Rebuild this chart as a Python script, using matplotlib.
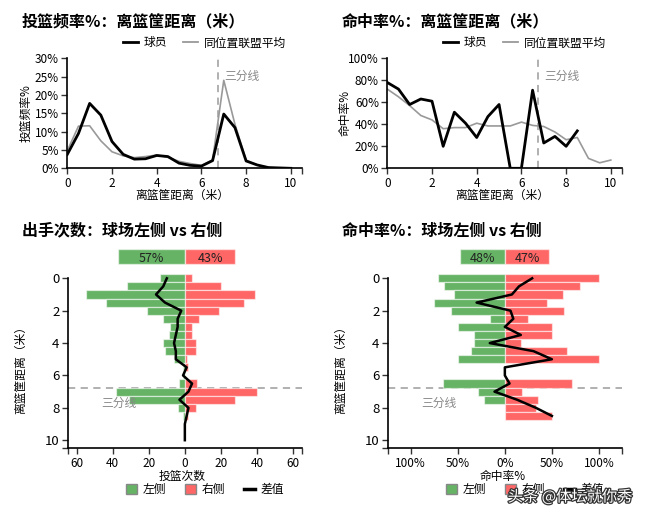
import matplotlib
matplotlib.use('Agg')
import matplotlib.pyplot as plt
import numpy as np
from matplotlib.lines import Line2D
from matplotlib.patches import Patch
import matplotlib.patheffects as pe

plt.rcParams['font.family'] = ['Noto Sans CJK SC', 'DejaVu Sans']
plt.rcParams['axes.unicode_minus'] = False

# ---------------- data ----------------
dist = [0, 0.5, 1, 1.5, 2, 2.5, 3, 3.5, 4, 4.5, 5, 5.5, 6, 6.5, 7, 7.5, 8, 8.5, 9, 9.5, 10]

freq_player = [3.8, 9.5, 17.7, 14.5, 7.3, 3.8, 2.5, 2.6, 3.5, 3.2, 1.4, 0.8, 0.6, 2.1, 14.8, 11.1, 2.0, 0.9, 0.2, 0.1, 0.0]
freq_league = [4.8, 11.5, 11.6, 7.5, 4.5, 3.4, 2.9, 3.2, 3.6, 3.0, 1.9, 1.3, 0.8, 2.3, 24.0, 12.0, 2.2, 0.9, 0.2, 0.1, 0.1]

rate_dist_player = [0, 0.5, 1, 1.5, 2, 2.5, 3, 3.5, 4, 4.5, 5, 5.5, 6, 6.5, 7, 7.5, 8, 8.5]
rate_player = [78, 72, 58, 63, 61, 20, 51, 41, 28, 47, 58, 0, 0, 71, 23, 29, 20, 34]
rate_league = [72, 65, 57, 48, 44, 36, 37, 37, 41, 38.5, 38.5, 38.5, 42, 39, 38, 33, 26, 28, 9, 5, 7.5]

left_count = [14, 32, 55, 44, 21, 12, 8, 9, 12, 11, 6, 1, 1, 3, 38, 31, 4, 1, 0, 0, 0]
right_count = [4, 20, 39, 33, 19, 8, 4, 4, 6, 6, 1, 2, 0, 7, 40, 28, 6, 2, 0, 0, 0]
count_share = [57, 43]

left_rate = [71, 65, 54, 75, 57, 16, 50, 33, 33, 36, 50, 0, 0, 66, 29, 22, 0, 0]
right_rate = [100, 80, 61.5, 45, 63, 25, 50, 50, 17, 66.5, 100, 0, 0, 71, 18, 35, 33, 50]
rate_share = [48, 47]

three_pt = 6.75

# ---------------- style ----------------
W, H = 651, 519
fig = plt.figure(figsize=(W / 100, H / 100), dpi=100)

GREEN = '#66b366'
RED = '#ff6666'
GRAY = '#999999'
TXT = '#000000'


def frac(x0, y0, x1, y1):
    return [x0 / W, 1 - y1 / H, (x1 - x0) / W, (y1 - y0) / H]


def style_axis(ax):
    for s in ['top', 'right']:
        ax.spines[s].set_visible(False)
    for s in ['left', 'bottom']:
        ax.spines[s].set_linewidth(1.2)
        ax.spines[s].set_color('black')
    ax.tick_params(length=4.5, width=1.0, labelsize=8, pad=1.5, colors='#333333', labelcolor=TXT)


# ---------- top ----------
ax1 = fig.add_axes(frac(67.3, 58.3, 302, 168.3))
ax2 = fig.add_axes(frac(387.3, 58.3, 622, 168.3))

ax1.plot(dist, freq_league, color=GRAY, lw=1.2, zorder=2)
ax1.plot(dist, freq_player, color='black', lw=2.0, zorder=3)
ax1.set_xlim(0, 10.5)
ax1.set_ylim(0, 30)
ax1.set_yticks(range(0, 31, 5))
ax1.set_yticklabels([f'{v}%' for v in range(0, 31, 5)])
ax1.set_xticks([0, 2, 4, 6, 8, 10, 10.5])
ax1.set_xticklabels(['0', '2', '4', '6', '8', '10', ''])

ax2.plot(dist, rate_league, color=GRAY, lw=1.2, zorder=2)
ax2.plot(rate_dist_player, rate_player, color='black', lw=2.0, zorder=3)
ax2.set_xlim(0, 10.5)
ax2.set_ylim(0, 100)
ax2.set_yticks(range(0, 101, 20))
ax2.set_yticklabels([f'{v}%' for v in range(0, 101, 20)])
ax2.set_xticks([0, 2, 4, 6, 8, 10, 10.5])
ax2.set_xticklabels(['0', '2', '4', '6', '8', '10', ''])

for ax, ylab, yt in [(ax1, '投篮频率%', 25.2), (ax2, '命中率%', 25.2 / 30 * 100)]:
    style_axis(ax)
    ax.tick_params(labelsize=8.5)
    ax.axvline(three_pt, color='#aaaaaa', lw=1.3, ls=(0, (4, 3)), zorder=1)
    ax.text(7.0, yt, '三分线', color='#888888', fontsize=8.5, va='center', ha='left')
    ax.set_xlabel('离篮筐距离（米）', fontsize=8.5, color=TXT)
    ax.xaxis.set_label_coords(0.49, -0.19)
    ax.set_ylabel(ylab, fontsize=8.5, color=TXT)
    ax.yaxis.set_label_coords(-0.15, 0.5)
    handles = [Line2D([], [], color='black', lw=2.0), Line2D([], [], color=GRAY, lw=1.3)]
    ax.legend(handles, ['球员', '同位置联盟平均'], ncol=2, frameon=False, fontsize=8.5,
              loc='center', bbox_to_anchor=(0.585, 1.14), handlelength=1.3,
              handletextpad=0.5, columnspacing=1.3, borderaxespad=0)

# ---------- bottom ----------
ax3 = fig.add_axes(frac(67.7, 278.3, 302, 448.3))
ax4 = fig.add_axes(frac(387.7, 278.3, 622, 448.3))

bar_h = 0.5
edge = (1, 1, 1, 0.55)

ax3.barh(dist, [-v for v in left_count], height=bar_h, color=GREEN, edgecolor=edge, lw=0.9, clip_on=False, zorder=2)
ax3.barh(dist, right_count, height=bar_h, color=RED, edgecolor=edge, lw=0.9, clip_on=False, zorder=2)
count_diff = [r - l for l, r in zip(left_count, right_count)]
ax3.plot(count_diff, dist, color='black', lw=1.8, zorder=4, clip_on=False)
ax3.set_xlim(-65, 65)
ax3.set_xticks([-65, -60, -40, -20, 0, 20, 40, 60, 65])
ax3.set_xticklabels(['', '60', '40', '20', '0', '20', '40', '60', ''])
ax3.set_xlabel('投篮次数', fontsize=8.5, color=TXT)

ax4.barh(rate_dist_player, [-v for v in left_rate], height=bar_h, color=GREEN, edgecolor=edge, lw=0.9, clip_on=False, zorder=2)
ax4.barh(rate_dist_player, right_rate, height=bar_h, color=RED, edgecolor=edge, lw=0.9, clip_on=False, zorder=2)
rate_diff = [r - l for l, r in zip(left_rate, right_rate)]
ax4.plot(rate_diff, rate_dist_player, color='black', lw=1.8, zorder=4, clip_on=False)
ax4.set_xlim(-124.5, 124.5)
ax4.set_xticks([-124.5, -100, -50, 0, 50, 100, 124.5])
ax4.set_xticklabels(['', '100%', '50%', '0%', '50%', '100%', ''])
ax4.set_xlabel('命中率%', fontsize=8.5, color=TXT)

for ax, share, scale, tx in [(ax3, count_share, 0.65, -36.5), (ax4, rate_share, 1.0, -69.7)]:
    style_axis(ax)
    ax.tick_params(axis='x', labelsize=8.5)
    ax.set_ylim(10.5, 0)
    ax.spines['left'].set_bounds(0, 10.5)
    ax.set_yticks([0, 2, 4, 6, 8, 10, 10.5])
    ax.set_yticklabels(['0', '2', '4', '6', '8', '10', ''])
    ax.tick_params(axis='y', labelsize=9.5)
    ax.axhline(three_pt, color='#aaaaaa', lw=1.3, ls=(0, (4, 3)), zorder=1)
    ax.text(tx, 7.73, '三分线', color='#888888', fontsize=8.5, va='center', ha='center', zorder=3)
    ax.xaxis.set_label_coords(0.49, -0.125)
    ax.set_ylabel('离篮筐距离（米）', fontsize=8.5, color=TXT)
    ax.yaxis.set_label_coords(-0.172, 0.48)
    # summary bar
    gl, rr = share[0] * scale, share[1] * scale
    ax.barh([-1.34], [-gl], height=0.9, color=GREEN, edgecolor=edge, lw=1.0, clip_on=False)
    ax.barh([-1.34], [rr], height=0.9, color=RED, edgecolor=edge, lw=1.0, clip_on=False)
    ax.text(-gl / 2, -1.22, f'{share[0]}%', ha='center', va='center', fontsize=9, color='#222222')
    ax.text(rr / 2, -1.22, f'{share[1]}%', ha='center', va='center', fontsize=9, color='#222222')
    handles = [Patch(facecolor=GREEN, edgecolor='#888888', lw=1.0),
               Patch(facecolor=RED, edgecolor='#888888', lw=1.0),
               Line2D([], [], color='black', lw=2.5)]
    ax.legend(handles, ['左侧', '右侧', '差值'], ncol=3, frameon=False, fontsize=8.5,
              loc='center', bbox_to_anchor=(0.586, -0.245), handlelength=0.9, handleheight=0.9,
              handletextpad=0.5, columnspacing=1.6, borderaxespad=0)

# ---------- titles ----------
fig.text(22 / W, 1 - 21 / H, '投篮频率%：离篮筐距离（米）', fontsize=11.5, fontweight='bold', va='center', ha='left')
fig.text(341.7 / W, 1 - 21 / H, '命中率%：离篮筐距离（米）', fontsize=11.5, fontweight='bold', va='center', ha='left')
fig.text(22 / W, 1 - 230.5 / H, '出手次数：球场左侧 vs 右侧', fontsize=11.5, fontweight='bold', va='center', ha='left')
fig.text(341.7 / W, 1 - 230.5 / H, '命中率%：球场左侧 vs 右侧', fontsize=11.5, fontweight='bold', va='center', ha='left')

# watermark
fig.text(570 / W, 1 - 497 / H, '头条 @体坛就你秀', fontsize=11, color='white', ha='center', va='center',
         path_effects=[pe.withStroke(linewidth=1.8, foreground='#333333')])

fig.savefig('out.png', dpi=100)
